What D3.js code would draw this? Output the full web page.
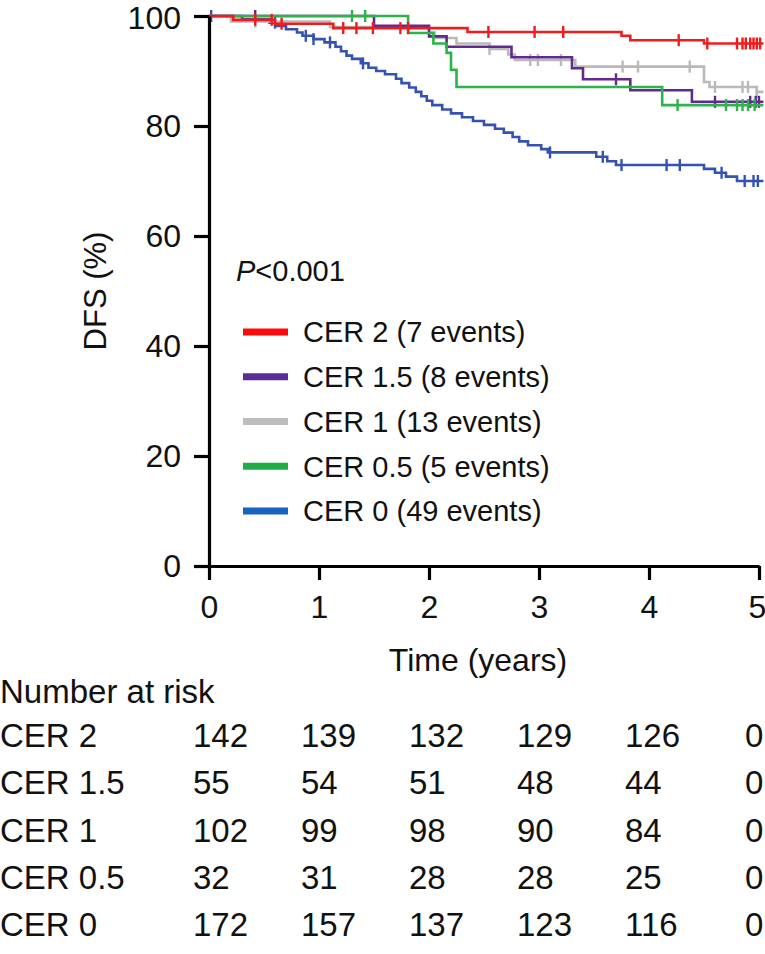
<!DOCTYPE html>
<html>
<head>
<meta charset="utf-8">
<script src="https://cdn.jsdelivr.net/npm/d3@7/dist/d3.min.js"></script>
<style>
  html, body { margin: 0; padding: 0; background: #fff; }
  svg { display: block; }
  text { font-family: "Liberation Sans", Arial, Helvetica, sans-serif; fill: #111; }
</style>
</head>
<body>
<div id="chart"></div>
<script>
// ---------------- data ----------------
const timeTicks = [0, 1, 2, 3, 4, 5];
const yTicks = [0, 20, 40, 60, 80, 100];
const groupNames = ["CER 2", "CER 1.5", "CER 1", "CER 0.5", "CER 0"];
const groupEvents = [7, 8, 13, 5, 49];
const groupColors = ["#f01c1c", "#62298f", "#b9b9b9", "#2db34a", "#3552b2"];
const legendColors = ["#ff0a0a", "#5a2d96", "#bdbdbd", "#20ad45", "#1565c0"];

// Kaplan-Meier steps (time in years, survival %)
const cer2Times = [0, 0.22, 0.6, 1.13, 2.35, 3.75, 3.83, 4.5, 5.04];
const cer2Surv  = [100, 99.3, 98.6, 97.8, 97.1, 96.4, 95.6, 95.0, 95.0];
const cer2Censor = [0.42, 0.57, 0.66, 1.22, 1.34, 1.49, 1.74, 1.81, 2.54, 2.96, 3.22, 4.27, 4.53, 4.8, 4.85, 4.88, 4.92, 4.95, 4.98, 5.01];

const cer15Times = [0, 1.5, 2.0, 2.16, 2.75, 3.3, 3.4, 3.83, 4.39, 5.04];
const cer15Surv  = [100, 98.2, 96.3, 94.4, 92.5, 90.5, 88.5, 86.5, 84.4, 84.4];
const cer15Censor = [0.42, 3.7, 4.6, 4.92, 4.97, 5.0];

const cer1Times = [0, 0.2, 1.1, 2.0, 2.05, 2.25, 2.55, 2.72, 2.78, 3.33, 4.5, 4.55, 4.98, 5.04];
const cer1Surv  = [100, 99.0, 98.0, 97.0, 96.0, 95.0, 94.0, 93.0, 92.0, 90.8, 88.0, 87.1, 86.2, 86.2];
const cer1Censor = [0.42, 2.55, 2.92, 2.99, 3.2, 3.76, 3.9, 4.37, 4.6, 4.85, 4.9, 4.98];

const cer05Times = [0, 1.81, 2.04, 2.16, 2.2, 2.25, 4.12, 5.04];
const cer05Surv  = [100, 96.9, 95.0, 93.3, 90.2, 87.1, 83.8, 83.8];
const cer05Censor = [1.3, 1.42, 4.26, 4.7, 4.8, 4.85, 4.9, 4.96];

const cer0Times = [0, 0.3, 0.55, 0.62, 0.7, 0.8, 0.85, 0.95, 1.05, 1.15, 1.2, 1.25, 1.3, 1.38, 1.45, 1.52, 1.6, 1.7, 1.75, 1.82, 1.88, 1.93, 1.98, 2.03, 2.12, 2.2, 2.3, 2.4, 2.5, 2.6, 2.68, 2.76, 2.82, 2.9, 3.02, 3.08, 3.52, 3.62, 3.7, 4.5, 4.6, 4.7, 4.8, 5.04];
const cer0Surv  = [100, 99.4, 98.8, 98.2, 97.6, 97.0, 96.4, 95.8, 95.2, 94.4, 93.6, 92.8, 92.2, 91.4, 90.6, 90.0, 89.4, 88.6, 87.8, 87.0, 86.2, 85.4, 84.6, 83.8, 83.0, 82.3, 81.6, 80.9, 80.2, 79.5, 78.8, 78.0, 77.2, 76.5, 75.8, 75.2, 74.4, 73.6, 72.9, 72.2, 71.5, 70.8, 70.0, 70.0];
const cer0Censor = [0.02, 0.6, 0.88, 0.95, 1.1, 1.4, 3.1, 3.58, 3.75, 4.16, 4.28, 4.66, 4.87, 4.95, 4.99];

// Number at risk
const riskCER2  = [142, 139, 132, 129, 126, 0];
const riskCER15 = [55, 54, 51, 48, 44, 0];
const riskCER1  = [102, 99, 98, 90, 84, 0];
const riskCER05 = [32, 31, 28, 28, 25, 0];
const riskCER0  = [172, 157, 137, 123, 116, 0];

// ---------------- build ----------------
const series = [
  { name: groupNames[0], times: cer2Times, surv: cer2Surv, censor: cer2Censor, color: groupColors[0] },
  { name: groupNames[1], times: cer15Times, surv: cer15Surv, censor: cer15Censor, color: groupColors[1] },
  { name: groupNames[2], times: cer1Times, surv: cer1Surv, censor: cer1Censor, color: groupColors[2] },
  { name: groupNames[3], times: cer05Times, surv: cer05Surv, censor: cer05Censor, color: groupColors[3] },
  { name: groupNames[4], times: cer0Times, surv: cer0Surv, censor: cer0Censor, color: groupColors[4] }
];
const riskRows = [riskCER2, riskCER15, riskCER1, riskCER05, riskCER0];

const W = 765, H = 954;
const svg = d3.select("#chart").append("svg").attr("width", W).attr("height", H);

const x = d3.scaleLinear().domain([0, 5]).range([209, 759]);
const y = d3.scaleLinear().domain([0, 100]).range([566, 16]);

function survAt(s, t) {
  let v = s.surv[0];
  for (let i = 0; i < s.times.length; i++) { if (s.times[i] <= t) v = s.surv[i]; }
  return v;
}

const line = d3.line().x(d => x(d[0])).y(d => y(d[1])).curve(d3.curveStepAfter);

const drawOrder = [4, 2, 1, 3, 0];
drawOrder.forEach(i => {
  const s = series[i];
  const pts = s.times.map((t, k) => [t, s.surv[k]]);
  const g = svg.append("g");
  g.append("path").attr("d", line(pts)).attr("fill", "none")
    .attr("stroke", s.color).attr("stroke-width", 2.6);
  g.selectAll("line.cens").data(s.censor).join("line")
    .attr("x1", d => x(d)).attr("x2", d => x(d))
    .attr("y1", d => y(survAt(s, d)) - 6).attr("y2", d => y(survAt(s, d)) + 6)
    .attr("stroke", s.color).attr("stroke-width", 2.4);
});

// axes
const fontAxis = 32;
const yAxis = d3.axisLeft(y).tickValues(yTicks).tickFormat(d3.format("d"))
  .tickSize(15).tickSizeOuter(0).tickPadding(13);
const gy = svg.append("g").attr("transform", `translate(${x(0)},0)`).call(yAxis);
gy.select(".domain").attr("stroke", "#000").attr("stroke-width", 3.2);
gy.selectAll(".tick line").attr("stroke", "#000").attr("stroke-width", 3.2);
gy.selectAll(".tick text").style("font-size", fontAxis + "px").attr("fill", "#111")
  .style("font-family", '"Liberation Sans", Arial, sans-serif');
gy.selectAll(".tick").filter(d => d === 100).select("text").attr("dy", "0.38em");

const xAxis = d3.axisBottom(x).tickValues(timeTicks).tickFormat(d3.format("d"))
  .tickSize(14).tickSizeOuter(0).tickPadding(15);
const gx = svg.append("g").attr("transform", `translate(0,${y(0)})`).call(xAxis);
gx.select(".domain").attr("stroke", "#000").attr("stroke-width", 3.2);
gx.selectAll(".tick line").attr("stroke", "#000").attr("stroke-width", 3.2);
gx.selectAll(".tick text").style("font-size", fontAxis + "px").attr("fill", "#111")
  .style("font-family", '"Liberation Sans", Arial, sans-serif');
gx.selectAll(".tick").filter(d => d === 5).select("text").attr("dx", "-2");

// axis titles
svg.append("text").attr("transform", `translate(106,${(y(0) + y(100)) / 2}) rotate(-90)`)
  .attr("text-anchor", "middle").style("font-size", "31px").text("DFS (%)");
svg.append("text").attr("x", 478).attr("y", 671)
  .attr("text-anchor", "middle").style("font-size", "32px").text("Time (years)");

// P value
const pt = svg.append("text").attr("x", 236).attr("y", 281).style("font-size", "29px");
pt.append("tspan").style("font-style", "italic").text("P");
pt.append("tspan").text("<0.001");

// legend
const legRowY = d3.scaleLinear().domain([0, 4]).range([332, 511]);
series.forEach((s, i) => {
  const ly = legRowY(i);
  svg.append("line").attr("x1", 243).attr("x2", 288).attr("y1", ly).attr("y2", ly)
    .attr("stroke", legendColors[i]).attr("stroke-width", 7);
  svg.append("text").attr("x", 303).attr("y", ly).attr("dy", "0.36em")
    .style("font-size", "29px").text(`${s.name} (${groupEvents[i]} events)`);
});

// number at risk table
const fontTable = 33;
svg.append("text").attr("x", 0).attr("y", 703).style("font-size", fontTable + "px").text("Number at risk");
const rowY = d3.scaleLinear().domain([0, 4]).range([747, 936]);
const colX = t => (t < 5 ? x(t) - 16 - 2 * t : x(t) - 14);
riskRows.forEach((row, r) => {
  svg.append("text").attr("x", 0).attr("y", rowY(r)).style("font-size", fontTable + "px").text(groupNames[r]);
  row.forEach((v, c) => {
    svg.append("text").attr("x", colX(timeTicks[c])).attr("y", rowY(r))
      .style("font-size", fontTable + "px").text(v);
  });
});
</script>
</body>
</html>
